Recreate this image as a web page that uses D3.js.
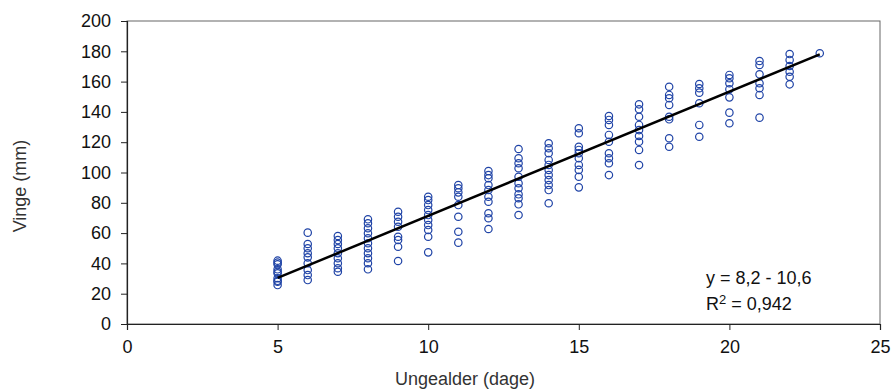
<!DOCTYPE html>
<html><head><meta charset="utf-8">
<script src="https://cdn.jsdelivr.net/npm/d3@7"></script>
<style>body{margin:0;background:#fff}svg{display:block}text{font-family:"Liberation Sans",Arial,sans-serif}</style>
</head><body>
<svg id="c" width="892" height="392"></svg>
<script>
const ages = [5,6,7,8,9,10,11,12,13,14,15,16,17,18,19,20,21,22,23];
const wings = [
 [41.8,40.5,39.4,36.1,33.5,30.2,27.9,25.7,28.5,34.5],
 [60.3,52.8,50,46.7,44,40.1,35.6,32.3,29],
 [58.1,55.4,52.8,50,46.7,43.4,40.1,36.8,34.5],
 [69.1,66.5,63.2,59.9,56.6,53.3,50,46.7,43.4,40.1,36.1],
 [74.1,70.8,67.5,64.2,57.6,55.4,51,41.6],
 [84,81.8,78.5,75.2,71.9,68.6,65.3,62,57.6,47.3],
 [91.7,89.6,86.9,84,78.5,70.8,60.9,53.7],
 [101,98.3,96.2,91.7,88.4,84,80.7,73.1,69.8,62.7],
 [115.5,109.4,106.1,102.8,97.2,92.9,89.6,85.6,83,79,71.9],
 [119.3,116,112.7,108.3,105,101.7,98.3,95,91.7,88.4,79.7],
 [129.2,125.9,117,114.9,112.7,109.4,105,101.7,97.2,90.2],
 [137.3,134.7,131.4,124.8,120.3,112.7,109.4,106.1,98.3],
 [145,141.7,136.8,131.4,128,124.1,120.3,114.9,104.9],
 [156.6,151.2,149,144.6,136.8,135.1,122.6,117],
 [158.4,155.6,152.7,145.7,131.4,123.6],
 [164.4,162.2,158.9,155,149.6,139.5,132.5],
 [173.6,171,164.8,158.9,155.6,151.2,136.2],
 [178.2,174.3,170.3,166.5,163.2,158.2],
 [178.7]
];
const xTicks = [0,5,10,15,20,25];
const yTicks = [0,20,40,60,80,100,120,140,160,180,200];
const slope = 8.2, intercept = -10.6;
const fitRange = [5,23];
const eqLine = "y = 8,2 - 10,6";
const r2Text = ["R", "2", " = 0,942"];

const svg = d3.select("#c");
const L=127, R=880, T=21, B=324;
const x = d3.scaleLinear().domain([0,25]).range([L,R]);
const y = d3.scaleLinear().domain([0,200]).range([B,T]);

// frame
svg.append("rect").attr("x",L).attr("y",T).attr("width",R-L).attr("height",B-T)
  .attr("fill","none").attr("stroke","#666").attr("stroke-width",1);

const fs = "18px";
const gx = svg.append("g").attr("transform",`translate(0,${B})`)
  .call(d3.axisBottom(x).tickValues(xTicks).tickSize(6).tickPadding(10).tickFormat(d3.format("d")));
const gy = svg.append("g").attr("transform",`translate(${L},0)`)
  .call(d3.axisLeft(y).tickValues(yTicks).tickSize(6).tickPadding(10).tickFormat(d3.format("d")));
[gx,gy].forEach(g=>{
  g.select(".domain").attr("stroke","#222").attr("stroke-width",1.2);
  g.selectAll(".tick line").attr("stroke","#222");
  g.selectAll("text").attr("font-size",fs).attr("fill","#111").style("font-family","Liberation Sans, Arial, sans-serif");
});

const pts = [];
ages.forEach((a,i)=>wings[i].forEach(v=>pts.push([a,v])));
svg.append("g").selectAll("circle").data(pts).join("circle")
  .attr("cx",d=>x(d[0])).attr("cy",d=>y(d[1])).attr("r",3.7)
  .attr("fill","none").attr("stroke","#1f43a6").attr("stroke-width",1.2);

svg.append("line")
  .attr("x1",x(fitRange[0])).attr("y1",y(slope*fitRange[0]+intercept))
  .attr("x2",x(fitRange[1])).attr("y2",y(slope*fitRange[1]+intercept))
  .attr("stroke","#000").attr("stroke-width",2.5);

svg.append("text").attr("x",706).attr("y",284).attr("font-size",fs).attr("fill","#111").text(eqLine);
const r2 = svg.append("text").attr("x",706).attr("y",310).attr("font-size",fs).attr("fill","#111");
r2.append("tspan").text(r2Text[0]);
r2.append("tspan").attr("font-size","13px").attr("dy",-6).text(r2Text[1]);
r2.append("tspan").attr("dy",6).text(r2Text[2]);

svg.append("text").attr("x",465).attr("y",385).attr("text-anchor","middle")
  .attr("font-size",fs).attr("fill","#333").text("Ungealder (dage)");
svg.append("text").attr("transform",`translate(26,186) rotate(-90)`).attr("text-anchor","middle")
  .attr("font-size",fs).attr("fill","#333").text("Vinge (mm)");
</script>
</body></html>
